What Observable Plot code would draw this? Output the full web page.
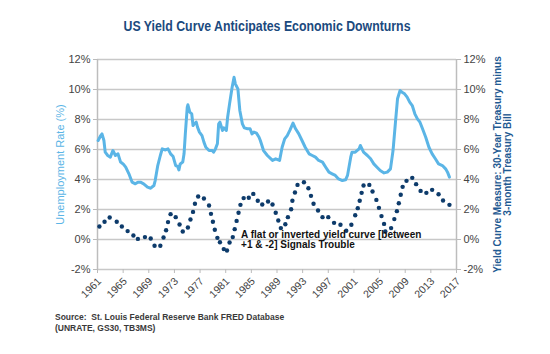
<!DOCTYPE html>
<html><head><meta charset="utf-8">
<script src="https://cdn.jsdelivr.net/npm/d3@7"></script>
<script src="https://cdn.jsdelivr.net/npm/@observablehq/plot@0.6"></script>
<style>
body{margin:0;width:550px;height:354px;position:relative;background:#fff;font-family:"Liberation Sans",Arial,sans-serif;overflow:hidden}
#tt{position:absolute;left:266.5px;top:19px;white-space:nowrap;font-weight:bold;font-size:14px;line-height:15px;color:#1b4a7e;transform-origin:center;}
#chart{position:absolute;left:0;top:45px}
#source{position:absolute;left:55px;top:312px;font-weight:bold;font-size:8.5px;line-height:11px;color:#3a3a3a}
</style></head><body>
<span id="tt">US Yield Curve Anticipates Economic Downturns</span>
<div id="chart"></div>
<div id="source">Source:&nbsp; St. Louis Federal Reserve Bank FRED Database<br>(UNRATE, GS30, TB3MS)</div>
<script>
// Unemployment rate (%)
const unempYear = [1961.1,1961.5,1961.7,1962.0,1962.2,1962.6,1963.0,1963.4,1963.8,1964.2,1964.6,1965.0,1965.4,1965.9,1966.4,1966.9,1967.3,1967.7,1968.2,1968.8,1969.3,1969.8,1970.0,1970.4,1970.8,1971.1,1971.6,1972.0,1972.4,1972.8,1973.2,1973.5,1973.7,1973.9,1974.3,1974.5,1974.7,1975.0,1975.1,1975.4,1975.7,1975.9,1976.1,1976.4,1976.6,1976.9,1977.3,1977.6,1977.9,1978.4,1978.9,1979.1,1979.4,1979.7,1979.9,1980.1,1980.5,1980.7,1981.1,1981.3,1981.6,1982.0,1982.3,1982.5,1982.9,1983.2,1983.6,1983.9,1984.4,1984.8,1985.1,1985.4,1985.8,1986.2,1986.4,1986.9,1987.5,1988.3,1988.8,1989.4,1989.8,1990.2,1990.6,1991.0,1991.5,1991.9,1992.4,1992.9,1993.4,1994.0,1994.5,1995.0,1995.5,1996.1,1996.6,1997.1,1997.6,1998.1,1998.6,1999.2,1999.7,2000.0,2000.5,2000.7,2001.2,2001.8,2002.0,2002.5,2003.1,2003.6,2004.1,2004.6,2005.1,2005.7,2006.2,2006.7,2007.1,2007.5,2007.8,2008.2,2008.5,2008.9,2009.3,2009.7,2010.1,2010.5,2010.9,2011.3,2011.7,2012.2,2012.7,2013.2,2013.7,2014.2,2014.8,2015.3,2015.6,2015.9];
const unempRate = [6.6,6.93,7.04,6.6,5.82,5.6,5.49,5.93,5.6,5.71,5.16,5.04,4.82,4.38,3.82,3.71,3.82,3.82,3.71,3.49,3.42,3.6,3.93,4.93,5.6,6.04,5.97,6.04,5.71,5.53,4.93,4.87,4.64,5.04,5.16,5.71,7.04,8.82,8.98,8.49,8.38,7.6,7.71,7.82,7.49,7.16,6.93,6.49,6.15,5.93,5.93,5.82,6.04,6.38,7.71,7.82,7.27,7.44,7.27,8.15,9.04,10.15,10.82,10.38,10.04,8.6,7.71,7.44,7.38,7.38,7.04,7.16,7.09,6.82,6.6,5.93,5.6,5.27,5.38,5.27,6.15,6.71,6.93,7.27,7.76,7.38,7.04,6.6,6.15,5.71,5.6,5.49,5.27,5.16,4.82,4.49,4.38,4.27,4.04,3.93,3.98,4.27,5.49,5.82,5.82,6.04,6.27,5.82,5.6,5.38,5.04,4.82,4.6,4.44,4.49,4.71,5.93,7.93,9.38,9.93,9.82,9.71,9.49,9.16,8.93,8.38,8.04,7.82,7.38,6.82,6.15,5.71,5.38,5.04,4.93,4.71,4.49,4.16];
// Yield curve: 30-year Treasury minus 3-month T-bill (%)
const curveYear = [1961.3,1962.1,1962.9,1964.0,1964.8,1965.7,1966.6,1967.3,1968.4,1969.3,1969.9,1970.8,1971.3,1971.7,1972.0,1972.4,1973.2,1973.8,1974.3,1975.1,1975.5,1975.9,1976.2,1976.7,1977.6,1978.4,1978.7,1979.0,1979.3,1979.7,1980.1,1980.7,1981.2,1981.6,1982.1,1982.4,1982.7,1983.0,1983.3,1983.8,1984.6,1985.3,1986.0,1986.7,1987.6,1988.3,1988.8,1989.2,1989.6,1990.3,1990.7,1991.2,1991.4,1991.8,1992.2,1993.2,1993.9,1994.3,1994.7,1995.4,1996.1,1997.0,1997.9,1998.9,1999.8,2000.6,2001.2,2001.6,2001.9,2002.2,2002.5,2003.4,2003.9,2004.5,2004.9,2005.3,2005.7,2005.9,2006.8,2007.3,2007.7,2008.0,2008.3,2008.6,2009.2,2010.1,2010.7,2011.4,2012.3,2013.2,2014.2,2014.9,2015.9];
const curveSpread = [0.87,1.18,1.47,1.18,0.87,0.56,0.27,0.04,0.16,0.07,-0.42,-0.42,0.13,0.62,1.16,1.69,1.49,1.0,0.53,0.8,1.33,1.84,2.38,2.87,2.73,2.27,1.71,1.18,0.65,0.11,-0.18,-0.64,-0.73,-0.2,0.16,0.69,1.24,1.78,2.31,2.76,2.78,3.04,2.58,2.33,2.53,2.33,1.78,1.27,0.76,1.02,1.49,2.02,2.58,3.13,3.64,3.82,3.42,2.91,2.38,1.93,1.49,1.49,1.11,0.98,0.58,0.98,1.62,2.09,2.58,3.11,3.6,3.64,3.2,2.64,2.11,1.56,1.04,0.53,0.76,1.36,1.89,2.42,2.98,3.51,3.91,4.11,3.69,3.24,3.11,3.31,3.02,2.6,2.31];
const yTicks = [-2,0,2,4,6,8,10,12];
const xTicks = [1961,1965,1969,1973,1977,1981,1985,1989,1993,1997,2001,2005,2009,2013,2017];
const leftTitle = "Unemployment Rate (%)";
const rightTitle = "Yield Curve Measure: 30-Year Treasury minus\n3-month Treasury Bill";
const note = "A flat or inverted yield curve [between\n+1 & -2] Signals Trouble";

const unemp = unempYear.map((y,i)=>({year:y, rate:unempRate[i]}));
const curve = curveYear.map((y,i)=>({year:y, spread:curveSpread[i]}));

const lightBlue = "#5bb5e6", navy = "#0d3b6b";
const chart = Plot.plot({
  width:550, height:260, marginTop:14, marginBottom:36, marginLeft:97, marginRight:94,
  style:{fontFamily:"'Liberation Sans', Arial, sans-serif", fontSize:"11px", color:"#444", background:"white"},
  x:{domain:[1961,2017]},
  y:{domain:[-2,12]},
  marks:[
    Plot.ruleY(yTicks,{stroke:"#c8c8c8", strokeWidth:1.5}),
    Plot.ruleX([1961,2017],{y1:-2, y2:12, stroke:"#bdbdbd", strokeWidth:1.5}),
    Plot.axisY({ticks:yTicks, anchor:"left", tickFormat:d=>d+"%", tickSize:4, tickPadding:3, stroke:"#bbb", fill:"#444", label:null}),
    Plot.axisY({ticks:yTicks, anchor:"right", tickFormat:d=>d+"%", tickSize:4, tickPadding:3, stroke:"#bbb", fill:"#444", label:null}),
    Plot.axisX({ticks:xTicks, tickFormat:()=>"", tickSize:4, stroke:"#bbb", label:null}),
    Plot.text(xTicks,{x:d=>d, frameAnchor:"bottom", text:d=>String(d), rotate:-45, textAnchor:"end", lineAnchor:"middle", dx:2, dy:10, fill:"#444", fontSize:10.5}),
    Plot.line(unemp,{x:"year", y:"rate", stroke:lightBlue, strokeWidth:3, strokeLinejoin:"round"}),
    Plot.dot(curve,{x:"year", y:"spread", r:2.2, fill:navy, stroke:null}),
    Plot.text([note],{x:()=>1983.4, y:()=>0, text:d=>d, textAnchor:"start", lineAnchor:"middle", lineHeight:1.05, fontWeight:"bold", fontSize:10, fill:"#111"}),
    Plot.text([leftTitle],{frameAnchor:"left", text:d=>d, rotate:-90, textAnchor:"middle", dx:-37, fill:lightBlue, fontSize:11}),
    Plot.text([rightTitle],{frameAnchor:"right", text:d=>d, rotate:-90, textAnchor:"middle", lineAnchor:"middle", dx:46, lineHeight:1.05, fill:"#1f5a92", fontWeight:"bold", fontSize:10})
  ]
});
document.getElementById("chart").appendChild(chart);
const tt = document.getElementById("tt");
const w = tt.getBoundingClientRect().width;
tt.style.transform = `translateX(-50%) scaleX(${287/w})`;
</script>
</body></html>
